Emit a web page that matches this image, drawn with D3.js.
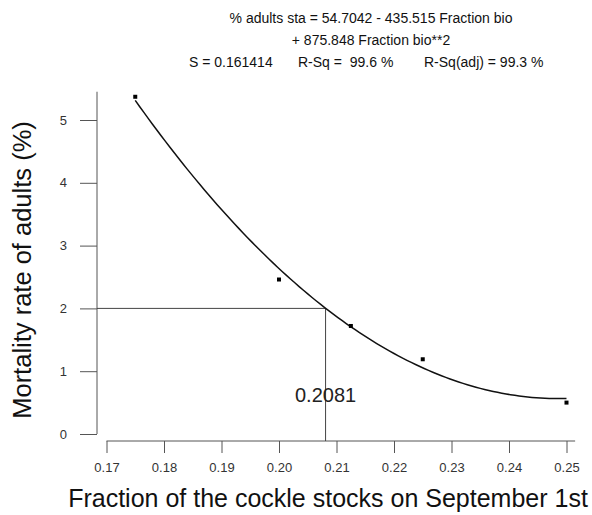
<!DOCTYPE html>
<html>
<head>
<meta charset="utf-8">
<script src="https://cdn.jsdelivr.net/npm/d3@7"></script>
<style>
  html, body { margin: 0; padding: 0; background: #fff; }
  svg { display: block; font-family: "Liberation Sans", Arial, sans-serif; }
</style>
</head>
<body>
<svg id="chart" width="592" height="515"></svg>
<script>
// Observed fraction of stocks vs adult mortality
const fraction = [0.175, 0.200, 0.2125, 0.225, 0.250];
const mortality = [5.37, 2.46, 1.72, 1.19, 0.50];

// Quadratic fit coefficients: y = b0 + b1*x + b2*x^2
const coef = [54.7042, -435.515, 875.848];

// Reading of the fit at 2 % mortality
const targetY = 2;
const targetX = 0.2081;

const xTicks = [0.17, 0.18, 0.19, 0.20, 0.21, 0.22, 0.23, 0.24, 0.25];
const yTicks = [0, 1, 2, 3, 4, 5];

const headerLines = [
  "% adults sta = 54.7042 - 435.515 Fraction bio",
  "+ 875.848 Fraction bio**2"
];
const statTexts = ["S = 0.161414", "R-Sq =  99.6 %", "R-Sq(adj) = 99.3 %"];

const svg = d3.select("#chart");

const x = d3.scaleLinear().domain([0.17, 0.25]).range([106.5, 566.5]);
const y = d3.scaleLinear().domain([0, 5]).range([434, 120]);

const xAxisY = 441;
const yAxisX = 97;
const xAxisEnd = 0.2515;
const yAxisTop = 5.45;

// Y axis
const gy = svg.append("g")
  .attr("transform", `translate(${yAxisX},0)`)
  .call(d3.axisLeft(y).tickValues(yTicks).tickFormat(d3.format("d"))
    .tickSize(17).tickSizeOuter(0).tickPadding(13));
gy.select(".domain").remove();
gy.append("line")
  .attr("y1", y(0)).attr("y2", y(yAxisTop))
  .attr("stroke", "#555");
gy.selectAll(".tick line").attr("stroke", "#555");
gy.selectAll(".tick text").attr("fill", "#333").style("font-size", "13px")
  .style("font-family", "Liberation Sans, Arial, sans-serif");

// X axis
const gx = svg.append("g")
  .attr("transform", `translate(0,${xAxisY})`)
  .call(d3.axisBottom(x).tickValues(xTicks).tickFormat(d3.format(".2f"))
    .tickSize(12).tickSizeOuter(0).tickPadding(10));
gx.select(".domain").remove();
gx.append("line")
  .attr("x1", x(0.17)).attr("x2", x(xAxisEnd))
  .attr("stroke", "#555");
gx.selectAll(".tick line").attr("stroke", "#555");
gx.selectAll(".tick text").attr("fill", "#333").style("font-size", "13px")
  .style("font-family", "Liberation Sans, Arial, sans-serif");

// Reference lines at 2 % mortality
svg.append("line")
  .attr("x1", yAxisX).attr("x2", x(targetX))
  .attr("y1", y(targetY)).attr("y2", y(targetY))
  .attr("stroke", "#444").attr("stroke-width", 1);
svg.append("line")
  .attr("x1", x(targetX)).attr("x2", x(targetX))
  .attr("y1", y(targetY)).attr("y2", xAxisY)
  .attr("stroke", "#444").attr("stroke-width", 1);

svg.append("text")
  .attr("x", x(targetX)).attr("y", 402)
  .attr("text-anchor", "middle")
  .attr("fill", "#222")
  .style("font-size", "20px")
  .text(targetX.toFixed(4));

// Fitted curve over the observed range
const fit = v => coef[0] + coef[1] * v + coef[2] * v * v;
const [xmin, xmax] = d3.extent(fraction);
const fitPts = d3.range(0, 101).map(i => {
  const v = xmin + (xmax - xmin) * i / 100;
  return [v, fit(v)];
});
svg.append("path")
  .datum(fitPts)
  .attr("fill", "none")
  .attr("stroke", "#111")
  .attr("stroke-width", 1.5)
  .attr("d", d3.line().x(d => x(d[0])).y(d => y(d[1])));

// Observations
svg.append("g").selectAll("rect")
  .data(fraction.map((f, i) => [f, mortality[i]]))
  .join("rect")
  .attr("x", d => x(d[0]) - 2)
  .attr("y", d => y(d[1]) - 2)
  .attr("width", 4).attr("height", 4)
  .attr("fill", "#000");

// Regression summary
svg.append("g").selectAll("text")
  .data(headerLines)
  .join("text")
  .attr("x", 371)
  .attr("y", (d, i) => 23 + i * 22)
  .attr("text-anchor", "middle")
  .attr("fill", "#111")
  .style("font-size", "14px")
  .text(d => d);

const statX = [189, 298, 424];
svg.append("g").selectAll("text")
  .data(statTexts)
  .join("text")
  .attr("x", (d, i) => statX[i])
  .attr("y", 67)
  .attr("fill", "#111")
  .style("font-size", "14px")
  .style("white-space", "pre")
  .text(d => d);

// Axis titles
svg.append("text")
  .attr("transform", "translate(31,270) rotate(-90)")
  .attr("text-anchor", "middle")
  .attr("fill", "#111")
  .style("font-size", "25.5px")
  .text("Mortality rate of adults (%)");

svg.append("text")
  .attr("x", 328).attr("y", 507)
  .attr("text-anchor", "middle")
  .attr("fill", "#111")
  .style("font-size", "25px")
  .text("Fraction of the cockle stocks on September 1st");
</script>
</body>
</html>
